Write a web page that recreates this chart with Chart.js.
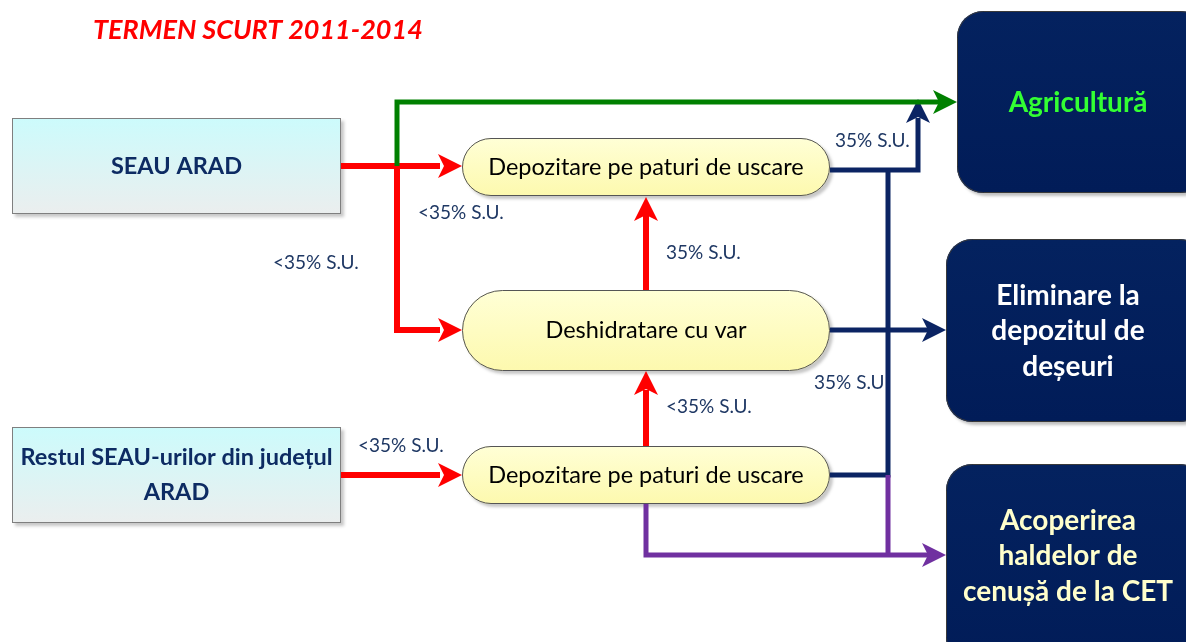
<!DOCTYPE html>
<html>
<head>
<meta charset="utf-8">
<script src="https://cdn.jsdelivr.net/npm/chart.js@4.4.0/dist/chart.umd.min.js"></script>
<style>
  html, body { margin: 0; padding: 0; background: #ffffff; }
  #wrap { width: 1186px; height: 642px; position: relative; }
</style>
</head>
<body>
<div id="wrap"><canvas id="schema" width="1186" height="642"></canvas></div>
<script>
// texte din schema
var titlu = 'TERMEN SCURT 2011-2014';
var surse = [['SEAU ARAD'], ['Restul SEAU-urilor din județul', 'ARAD']];
var procese = ['Depozitare pe paturi de uscare', 'Deshidratare cu var', 'Depozitare pe paturi de uscare'];
var destinatii = [['Agricultură'], ['Eliminare la', 'depozitul de', 'deșeuri'], ['Acoperirea', 'haldelor de', 'cenușă de la CET']];
var etichete = ['<35% S.U.', '<35% S.U.', '35% S.U.', '35% S.U.', '35% S.U', '<35% S.U.', '<35% S.U.'];

// asezare (unitati de axa: 0..1186 pe x, 0..642 pe y)
var cutiiSurse = [[12, 118, 329, 96], [12, 427, 329, 96]];
var pastile = [[462, 138, 368, 58], [462, 290, 368, 81], [462, 446, 368, 58]];
var cutiiDest = [[957, 11, 250, 182], [946, 239, 260, 183], [946, 464, 260, 200]];
var culoriDest = ['#33ff33', '#ffffff', '#ffffcc'];
var centreDest = [[1078, 103], [1068, 331], [1068, 556]];
var pozEtichete = [[418, 213], [273, 263], [835, 141], [666, 253], [814, 383], [666, 407], [358, 446]];

var ROSU = '#ff0000', VERDE = '#008000', BLEU = '#0b2463', MOV = '#7030a0';

// traseele conexiunilor: [culoare, grosime, puncte]
var trasee = [
  [VERDE, 5, [[397, 166], [397, 102], [940, 102]]],
  [ROSU, 6, [[341, 166], [440, 166]]],
  [ROSU, 6, [[397, 166], [397, 330], [440, 330]]],
  [ROSU, 6, [[341, 475], [440, 475]]],
  [ROSU, 6, [[646, 446], [646, 390]]],
  [ROSU, 6, [[646, 290], [646, 215]]],
  [MOV, 5, [[646, 504], [646, 555], [930, 555]]],
  [MOV, 5, [[888, 475], [888, 555]]],
  [BLEU, 5, [[830, 170], [918, 170], [918, 118]]],
  [BLEU, 5, [[888, 170], [888, 475], [830, 475]]],
  [BLEU, 5, [[830, 330], [930, 330]]]
];
// varfuri de sageata: [culoare, x, y, directie]
var sageti = [
  [ROSU, 462, 166, 'r'], [ROSU, 462, 330, 'r'], [ROSU, 462, 475, 'r'],
  [ROSU, 646, 371, 'u'], [ROSU, 646, 197, 'u'],
  [VERDE, 957, 102, 'r'], [BLEU, 918, 99, 'u'], [BLEU, 946, 330, 'r'],
  [MOV, 946, 555, 'r']
];

function faSageata(culoare) {
  var c = document.createElement('canvas');
  c.width = 24; c.height = 24;
  var g = c.getContext('2d');
  g.fillStyle = culoare;
  g.beginPath();
  g.moveTo(24, 12);
  g.lineTo(0, 0);
  g.lineTo(6, 12);
  g.lineTo(0, 24);
  g.closePath();
  g.fill();
  return c;
}

var seturi = [];
trasee.forEach(function (t) {
  seturi.push({
    type: 'line',
    data: t[2].map(function (p) { return {x: p[0], y: p[1]}; }),
    borderColor: t[0],
    borderWidth: t[1],
    borderJoinStyle: 'miter',
    pointRadius: 0,
    showLine: true,
    fill: false,
    tension: 0
  });
});
var imagini = {};
sageti.forEach(function (s) {
  if (!imagini[s[0]]) imagini[s[0]] = faSageata(s[0]);
  var dx = s[3] == 'r' ? 1 : 0, dy = s[3] == 'u' ? -1 : 0;
  seturi.push({
    type: 'scatter',
    data: [{x: s[1] - 12 * dx, y: s[2] - 12 * dy}],
    pointStyle: imagini[s[0]],
    rotation: s[3] == 'r' ? 0 : -90,
    pointRadius: 12
  });
});

function dreptunghiRotunjit(ctx, x, y, w, h, r) {
  ctx.beginPath();
  ctx.moveTo(x + r, y);
  ctx.lineTo(x + w - r, y);
  ctx.arcTo(x + w, y, x + w, y + r, r);
  ctx.lineTo(x + w, y + h - r);
  ctx.arcTo(x + w, y + h, x + w - r, y + h, r);
  ctx.lineTo(x + r, y + h);
  ctx.arcTo(x, y + h, x, y + h - r, r);
  ctx.lineTo(x, y + r);
  ctx.arcTo(x, y, x + r, y, r);
  ctx.closePath();
}

var desenSchema = {
  id: 'desenSchema',
  beforeDatasetsDraw: function (chart) {
    var ctx = chart.ctx;
    var sx = chart.scales.x, sy = chart.scales.y;
    function px(v) { return sx.getPixelForValue(v); }
    function py(v) { return sy.getPixelForValue(v); }
    function cutie(b) {
      var x = px(b[0]), y = py(b[1]);
      return {x: x, y: y, w: px(b[0] + b[2]) - x, h: py(b[1] + b[3]) - y};
    }
    ctx.save();
    ctx.textAlign = 'center';
    ctx.textBaseline = 'middle';

    // titlu
    ctx.fillStyle = ROSU;
    ctx.font = 'italic bold 27px Lato';
    ctx.textAlign = 'left';
    ctx.fillText(titlu, px(93), py(30));
    ctx.textAlign = 'center';

    // surse
    cutiiSurse.forEach(function (b, i) {
      var c = cutie(b);
      ctx.save();
      ctx.shadowColor = 'rgba(0,0,0,0.22)';
      ctx.shadowOffsetX = 3; ctx.shadowOffsetY = 3; ctx.shadowBlur = 3;
      var gr = ctx.createLinearGradient(0, c.y, 0, c.y + c.h);
      gr.addColorStop(0, '#ccfbfc');
      gr.addColorStop(1, '#ebeeee');
      ctx.fillStyle = gr;
      ctx.fillRect(c.x, c.y, c.w, c.h);
      ctx.restore();
      ctx.strokeStyle = '#7f7f7f';
      ctx.lineWidth = 1;
      ctx.strokeRect(c.x + 0.5, c.y + 0.5, c.w - 1, c.h - 1);
      ctx.fillStyle = '#0d2b63';
      ctx.font = 'bold 23.5px Lato';
      var linii = surse[i];
      linii.forEach(function (t, k) {
        ctx.fillText(t, c.x + c.w / 2, c.y + c.h / 2 + (k - (linii.length - 1) / 2) * 35);
      });
    });

    // procese
    pastile.forEach(function (b, i) {
      var c = cutie(b);
      ctx.save();
      ctx.shadowColor = 'rgba(0,0,0,0.22)';
      ctx.shadowOffsetX = 3; ctx.shadowOffsetY = 3; ctx.shadowBlur = 3;
      var gr = ctx.createLinearGradient(0, c.y, 0, c.y + c.h);
      gr.addColorStop(0, '#ffffd6');
      gr.addColorStop(1, '#fdf9ae');
      ctx.fillStyle = gr;
      dreptunghiRotunjit(ctx, c.x, c.y, c.w, c.h, c.h / 2);
      ctx.fill();
      ctx.restore();
      ctx.strokeStyle = '#555555';
      ctx.lineWidth = 1;
      dreptunghiRotunjit(ctx, c.x + 0.5, c.y + 0.5, c.w - 1, c.h - 1, (c.h - 1) / 2);
      ctx.stroke();
      ctx.fillStyle = '#000000';
      ctx.font = '23.5px Lato';
      ctx.fillText(procese[i], c.x + c.w / 2, c.y + c.h / 2);
    });

    // destinatii
    cutiiDest.forEach(function (b, i) {
      var c = cutie(b);
      ctx.save();
      ctx.shadowColor = 'rgba(0,0,0,0.25)';
      ctx.shadowOffsetX = 3; ctx.shadowOffsetY = 3; ctx.shadowBlur = 3;
      var gr = ctx.createLinearGradient(0, c.y, 0, c.y + c.h);
      gr.addColorStop(0, '#04225f');
      gr.addColorStop(1, '#011c58');
      ctx.fillStyle = gr;
      dreptunghiRotunjit(ctx, c.x, c.y, c.w, c.h, 26);
      ctx.fill();
      ctx.restore();
      ctx.strokeStyle = '#3a3a3a';
      ctx.lineWidth = 1;
      dreptunghiRotunjit(ctx, c.x + 0.5, c.y + 0.5, c.w - 1, c.h - 1, 26);
      ctx.stroke();
      ctx.fillStyle = culoriDest[i];
      ctx.font = 'bold 28px Lato';
      var linii = destinatii[i];
      var cx = px(centreDest[i][0]), cy = py(centreDest[i][1]);
      linii.forEach(function (t, k) {
        ctx.fillText(t, cx, cy + (k - (linii.length - 1) / 2) * 35.5);
      });
    });

    // etichete pe conexiuni
    ctx.fillStyle = '#1f3864';
    ctx.font = '19px Lato';
    ctx.textAlign = 'left';
    etichete.forEach(function (t, i) {
      ctx.fillText(t, px(pozEtichete[i][0]), py(pozEtichete[i][1]));
    });
    ctx.restore();
  }
};

new Chart(document.getElementById('schema'), {
  type: 'scatter',
  data: { datasets: seturi },
  options: {
    responsive: false,
    animation: false,
    events: [],
    layout: { padding: 0, autoPadding: false },
    plugins: { legend: { display: false }, tooltip: { enabled: false } },
    scales: {
      x: { type: 'linear', min: 0, max: 1186, display: false },
      y: { type: 'linear', min: 0, max: 642, reverse: true, display: false }
    }
  },
  plugins: [desenSchema]
});
</script>
</body>
</html>
